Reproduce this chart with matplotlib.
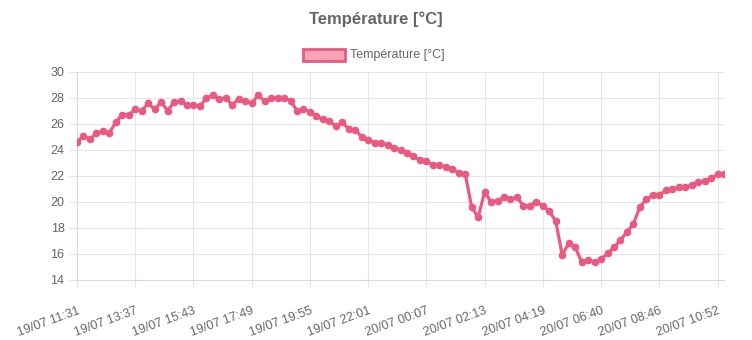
import matplotlib.pyplot as plt

TITLE = "Température [°C]"
SERIES_NAME = "Température [°C]"

# one reading every ~14 minutes, 101 readings
temperature = [
    24.6, 25.05, 24.8, 25.25, 25.45, 25.3, 26.1, 26.7, 26.65, 27.1,
    27.0, 27.55, 27.1, 27.65, 27.0, 27.65, 27.75, 27.45, 27.45, 27.35,
    27.95, 28.2, 27.9, 27.95, 27.45, 27.9, 27.7, 27.55, 28.2, 27.7,
    27.95, 27.95, 27.95, 27.75, 27.0, 27.1, 26.9, 26.55, 26.35, 26.2,
    25.8, 26.1, 25.6, 25.5, 25.0, 24.75, 24.55, 24.5, 24.35, 24.15,
    23.95, 23.75, 23.5, 23.2, 23.15, 22.8, 22.85, 22.65, 22.55, 22.2,
    22.15, 19.6, 18.8, 20.75, 20.0, 20.1, 20.35, 20.2, 20.35, 19.7,
    19.7, 20.0, 19.7, 19.3, 18.5, 15.9, 16.85, 16.5, 15.4, 15.5,
    15.4, 15.6, 16.05, 16.5, 17.05, 17.7, 18.3, 19.6, 20.2, 20.5,
    20.5, 20.9, 21.0, 21.1, 21.1, 21.3, 21.5, 21.6, 21.8, 22.1,
    22.1,
]
tick_labels = [
    "19/07 11:31", "19/07 13:37", "19/07 15:43", "19/07 17:49",
    "19/07 19:55", "19/07 22:01", "20/07 00:07", "20/07 02:13",
    "20/07 04:19", "20/07 06:40", "20/07 08:46", "20/07 10:52",
]
TICK_STEP = 9

LINE = "#EA5A80"
FILL = "#F7A3B8"
TEXT = "#666666"
GRID = "#e6e6e6"

plt.rcParams["font.family"] = ["Liberation Sans", "DejaVu Sans"]


def main():
    fig = plt.figure(figsize=(7.52, 3.4), dpi=100)
    ax = fig.add_axes([77 / 752, 1 - 280 / 340, (724 - 77) / 752, (280 - 71.5) / 340])

    x = list(range(len(temperature)))
    ax.plot(x, temperature, color=LINE, lw=2.3, marker="o", ms=4.5,
            markerfacecolor=LINE, markeredgecolor=LINE, zorder=3,
            solid_joinstyle="round")

    ax.set_xlim(0, len(temperature) - 1)
    ax.set_ylim(14, 30)
    ax.set_yticks(range(14, 31, 2))
    ax.set_xticks([i * TICK_STEP for i in range(len(tick_labels))])
    ax.set_xticklabels(tick_labels, rotation=20, ha="right",
                       rotation_mode="anchor")
    ax.tick_params(axis="both", colors=GRID, labelcolor=TEXT, labelsize=9,
                   length=6, width=0.8)
    ax.tick_params(axis="x", pad=12)
    ax.tick_params(axis="y", pad=3)
    ax.grid(True, color=GRID, lw=0.8)
    ax.set_axisbelow(True)
    for side in ("top", "right"):
        ax.spines[side].set_visible(False)
    for side in ("left", "bottom"):
        ax.spines[side].set_color("#d9d9d9")
        ax.spines[side].set_linewidth(0.8)

    fig.text(376 / 752, 1 - 19 / 340, TITLE, ha="center", va="center",
             fontsize=12, fontweight="bold", color=TEXT)
    box = plt.Rectangle((303 / 752, 1 - 61 / 340), 42 / 752, 12 / 340,
                        transform=fig.transFigure, facecolor=FILL,
                        edgecolor=LINE, lw=2)
    fig.patches.append(box)
    fig.text(350 / 752, 1 - 55 / 340, SERIES_NAME, ha="left", va="center",
             fontsize=9, color=TEXT)

    fig.savefig("out.png", dpi=100, facecolor="white")


if __name__ == "__main__":
    main()
